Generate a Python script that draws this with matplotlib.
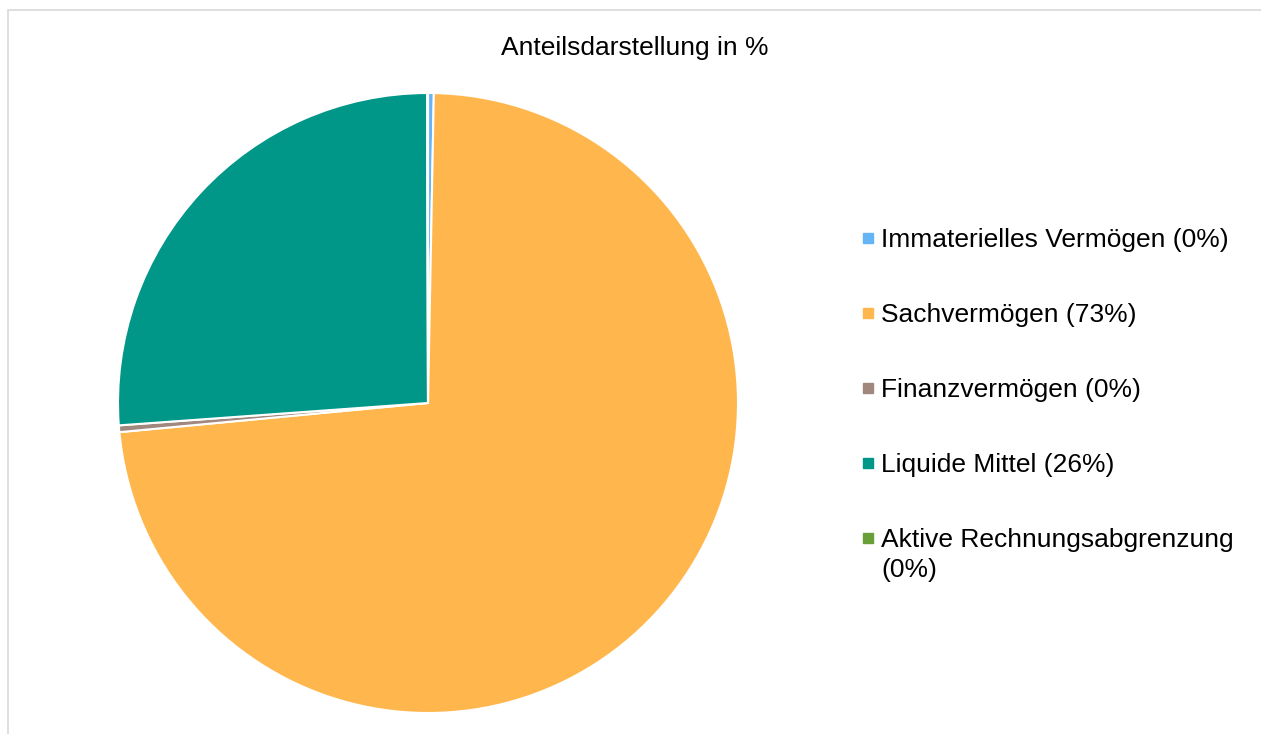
import matplotlib.pyplot as plt
from matplotlib.patches import Rectangle

# --- Daten ---
kategorien = ['Immaterielles Vermögen', 'Sachvermögen', 'Finanzvermögen',
              'Liquide Mittel', 'Aktive Rechnungsabgrenzung']
anteile = [0.3, 73.2, 0.35, 26.1, 0.05]
legenden_text = ['Immaterielles Vermögen (0%)', 'Sachvermögen (73%)',
                 'Finanzvermögen (0%)', 'Liquide Mittel (26%)',
                 'Aktive Rechnungsabgrenzung\n(0%)']
farben = ['#64B5F6', '#FFB74D', '#A1887F', '#009688', '#689F38']

plt.rcParams['font.family'] = ['Liberation Sans', 'DejaVu Sans']

W, H = 1261, 734
fig = plt.figure(figsize=(W / 100, H / 100), dpi=100)

# Rahmen
fig.patches.append(Rectangle((8 / W, -0.1), 1.2, 1 - 10 / H + 0.1,
                             transform=fig.transFigure, fill=False,
                             edgecolor='#D9D9D9', lw=1.2))

# --- Kreisdiagramm ---
cx, cy, r = 428, 403, 310
ax = fig.add_axes([(cx - r) / W, (H - cy - r) / H, 2 * r / W, 2 * r / H])
ax.pie(anteile, colors=farben, startangle=90, counterclock=False,
       wedgeprops=dict(edgecolor='white', linewidth=1.5))
ax.set_xlim(-1.0, 1.0)
ax.set_ylim(-1.0, 1.0)

fig.text(635 / W, 1 - 55 / H, 'Anteilsdarstellung in %', ha='center',
         va='baseline', fontsize=19, color='#000000')

# --- Legende ---
for i, (lab, col) in enumerate(zip(legenden_text, farben)):
    y = 238 + 75 * i
    fig.patches.append(Rectangle((863 / W, 1 - (y + 5) / H), 10 / W, 10 / H,
                                 transform=fig.transFigure, color=col))
    fig.text(881 / W, 1 - (y - 10) / H, lab, ha='left', va='top',
             fontsize=19, color='#000000', linespacing=1.33)

fig.savefig('out.png', dpi=100)
